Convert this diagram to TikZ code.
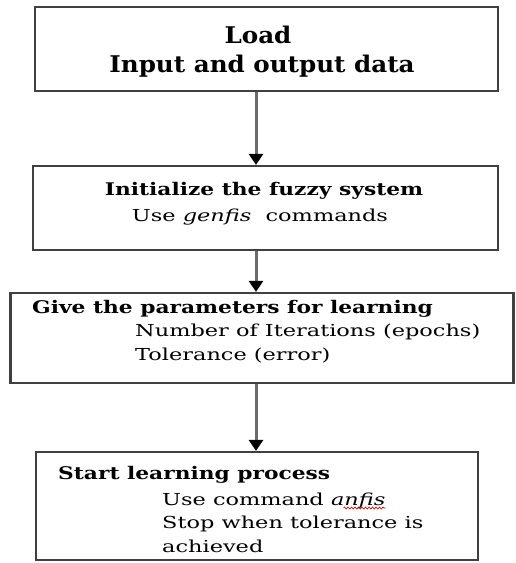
\documentclass[tikz,border=0pt]{standalone}
\usepackage{fontspec}
\setmainfont{DejaVu Serif}
\newfontfamily\bigfont[FakeStretch=1.07]{DejaVu Serif}
\newfontfamily\headfont[FakeStretch=1.25]{DejaVu Serif}
\newfontfamily\subfont[FakeStretch=1.36]{DejaVu Serif}
\usetikzlibrary{arrows.meta,decorations.pathmorphing}
\begin{document}
\begin{tikzpicture}[x=1pt,y=-1pt,
  stepbox/.style={draw=black!75,line width=2.2pt,rectangle,inner sep=0pt},
  flow/.style={draw=black!58,line width=3pt,-{Triangle[width=14pt,length=11pt,color=black,fill=black]}},
  headline/.style={font=\headfont\fontsize{17.4}{20}\selectfont\bfseries,inner sep=0pt},
  bigline/.style={font=\bigfont\fontsize{23}{26}\selectfont\bfseries,inner sep=0pt},
  subline/.style={font=\subfont\fontsize{16.5}{20}\selectfont,inner sep=0pt}]
\useasboundingbox (0,0) rectangle (516,563);
% boxes
\node[stepbox,minimum width=463pt,minimum height=84pt] (b1) at (266.5,49) {};
\node[stepbox,minimum width=465pt,minimum height=84pt] (b2) at (265.5,208) {};
\node[stepbox,minimum width=503pt,minimum height=90pt] (b3) at (262,338) {};
\node[stepbox,minimum width=442pt,minimum height=108pt] (b4) at (257,506) {};
% texts
\node[bigline,anchor=base] (t11) at (258,43) {Load};
\node[bigline,anchor=base] (t12) at (262,72.7) {Input and output data};
\node[headline,anchor=base] (t21) at (264,195) {Initialize the fuzzy system};
\node[subline,anchor=base] (t22) at (260,221.7) {Use \textit{genfis}\ \ commands};
\node[headline,anchor=base west] (t31) at (32,313) {Give the parameters for learning};
\node[subline,anchor=base west] (t32) at (135,336.7) {Number of Iterations (epochs)};
\node[subline,anchor=base west] (t33) at (135,360) {Tolerance (error)};
\node[headline,anchor=base west] (t41) at (58,479) {Start learning process};
\node[subline,anchor=base west] (t42) at (162,505) {Use command \textit{anfis}};
\node[subline,anchor=base west] (t43) at (162,528) {Stop when tolerance is};
\node[subline,anchor=base west] (t44) at (162,552.7) {achieved};
% spelling mark under anfis
\draw[red!85!black,line width=0.7pt,decorate,decoration={snake,amplitude=0.9pt,segment length=3.5pt}]
  ([xshift=-42pt,yshift=-3pt]t42.base east) -- ([yshift=-3pt]t42.base east);
% arrows
\coordinate (ax) at (256,0);
\draw[flow] (b1.south -| ax) -- (b2.north -| ax);
\draw[flow] (b2.south -| ax) -- (b3.north -| ax);
\draw[flow] (b3.south -| ax) -- (b4.north -| ax);
\end{tikzpicture}
\end{document}
